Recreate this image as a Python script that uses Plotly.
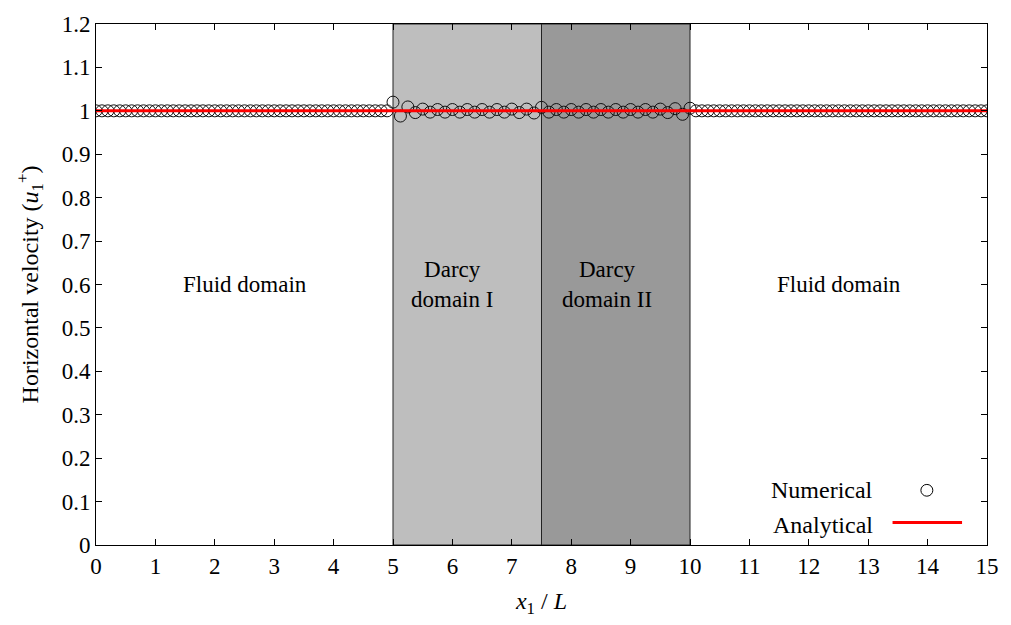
import numpy as np
import plotly.graph_objects as go

# ---- data ----
fluid_left_x = [round(0.1 * i, 1) for i in range(0, 51)]
fluid_right_x = [round(10 + 0.1 * i, 1) for i in range(0, 51)]
fluid_left_u = [1.0] * len(fluid_left_x)
fluid_right_u = [1.0] * len(fluid_right_x)

darcy1_x = [5.0, 5.125, 5.25, 5.375, 5.5, 5.625, 5.75, 5.875, 6.0, 6.125, 6.25,
            6.375, 6.5, 6.625, 6.75, 6.875, 7.0, 7.125, 7.25, 7.375]
darcy1_u = [1.020, 0.988, 1.009, 0.996, 1.004, 0.997, 1.003, 0.997, 1.003, 0.997, 1.003,
            0.997, 1.003, 0.997, 1.003, 0.997, 1.004, 0.996, 1.004, 0.995]
darcy2_x = [7.5, 7.625, 7.75, 7.875, 8.0, 8.125, 8.25, 8.375, 8.5, 8.625, 8.75,
            8.875, 9.0, 9.125, 9.25, 9.375, 9.5, 9.625, 9.75, 9.875]
darcy2_u = [1.008, 0.997, 1.003, 0.997, 1.003, 0.997, 1.003, 0.997, 1.003, 0.997, 1.003,
            0.997, 1.003, 0.997, 1.003, 0.997, 1.004, 0.996, 1.005, 0.992]

num_x = fluid_left_x[:-1] + darcy1_x + darcy2_x + fluid_right_x
num_u = fluid_left_u[:-1] + darcy1_u + darcy2_u + [1.006] + fluid_right_u[1:]

ana_x = [0, 15]
ana_u = [1.0, 1.0]

regions = [(5, 7.5, "#bebebe"), (7.5, 10, "#999999")]

x_ticks = list(range(0, 16))
y_ticks = [round(0.1 * i, 1) for i in range(0, 13)]
y_labels = ["0", "0.1", "0.2", "0.3", "0.4", "0.5", "0.6", "0.7", "0.8", "0.9", "1", "1.1", "1.2"]

labels = [
    (2.5, 0.6, "Fluid domain"),
    (6.0, 0.6, "Darcy<br>domain I"),
    (8.6, 0.6, "Darcy<br>domain II"),
    (12.5, 0.6, "Fluid domain"),
]

FONT = "Liberation Serif"

fig = go.Figure()

for x0, x1, col in regions:
    fig.add_shape(type="rect", x0=x0, x1=x1, y0=0, y1=1.2, xref="x", yref="y",
                  fillcolor=col, line=dict(color="#222222", width=1), layer="below")

fig.add_trace(go.Scatter(x=num_x, y=num_u, mode="markers", name="Numerical",
                         marker=dict(symbol="circle-open", size=12, color="#111111",
                                     line=dict(width=1, color="#111111")),
                         showlegend=False))
fig.add_trace(go.Scatter(x=ana_x, y=ana_u, mode="lines", name="Analytical",
                         line=dict(color="#ff0000", width=3), showlegend=False))

for x, y, t in labels:
    fig.add_annotation(x=x, y=y, text=t, showarrow=False, xref="x", yref="y",
                       font=dict(family=FONT, size=23, color="black"))

# legend (text on left, sample on right)
fig.add_annotation(x=0.874, y=0.105, xref="paper", yref="paper", xanchor="right",
                   yanchor="middle", text="Numerical", showarrow=False,
                   font=dict(family=FONT, size=24, color="black"))
fig.add_annotation(x=0.874, y=0.038, xref="paper", yref="paper", xanchor="right",
                   yanchor="middle", text="Analytical", showarrow=False,
                   font=dict(family=FONT, size=24, color="black"))
fig.add_shape(type="circle", xref="paper", yref="paper",
              x0=0.9325 - 6 / 895, x1=0.9325 + 6 / 895,
              y0=0.105 - 6 / 531, y1=0.105 + 6 / 531,
              line=dict(color="black", width=1))
fig.add_shape(type="line", xref="paper", yref="paper", x0=0.894, x1=0.972,
              y0=0.043, y1=0.043, line=dict(color="#ff0000", width=3))

axis_common = dict(showgrid=False, zeroline=False, ticks="inside", ticklen=6,
                   tickwidth=1, tickcolor="black", showline=True, linecolor="black",
                   linewidth=1, mirror="ticks",
                   tickfont=dict(family=FONT, size=23, color="black"))

fig.update_xaxes(range=[0, 15], tickvals=x_ticks,
                 title=dict(text="<i>x</i><sub>1</sub> / <i>L</i>",
                            font=dict(family=FONT, size=24, color="black"), standoff=14),
                 **axis_common)
fig.update_yaxes(range=[0, 1.2], tickvals=y_ticks, ticktext=y_labels,
                 title=dict(text="Horizontal velocity (<i>u</i><sub>1</sub><sup>+</sup>)",
                            font=dict(family=FONT, size=24, color="black"), standoff=16),
                 **axis_common)

fig.update_layout(width=1011, height=625, margin=dict(l=96, r=20, t=14, b=80),
                  plot_bgcolor="white", paper_bgcolor="white", showlegend=False)

fig.write_html("out.html")
